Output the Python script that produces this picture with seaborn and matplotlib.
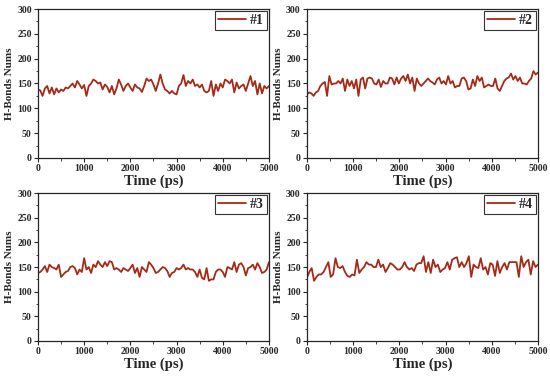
import numpy as np
import pandas as pd
import matplotlib
matplotlib.use("Agg")
import matplotlib.pyplot as plt
import seaborn as sns
from matplotlib.ticker import MultipleLocator

# H-bond counts (one sample per 50 ps)
hb_1 = [138, 136, 125, 140, 145, 130, 142, 128, 140, 132, 138, 135, 142, 140, 145, 150, 142, 155,
        148, 140, 147, 125, 145, 150, 158, 155, 150, 152, 138, 148, 143, 132, 145, 128, 140, 158,
        148, 135, 145, 150, 142, 135, 148, 142, 140, 133, 145, 160, 155, 158, 148, 135, 150, 168,
        150, 138, 135, 130, 135, 130, 128, 145, 150, 167, 145, 155, 150, 158, 145, 148, 142, 148,
        135, 132, 135, 155, 125, 148, 135, 150, 142, 158, 155, 150, 158, 132, 152, 140, 145, 148,
        135, 150, 165, 145, 155, 128, 150, 130, 145, 140, 145]
hb_2 = [128, 132, 130, 125, 132, 135, 145, 150, 153, 125, 165, 148, 150, 150, 155, 150, 160, 135,
        158, 145, 155, 140, 158, 125, 158, 162, 140, 160, 162, 160, 150, 148, 158, 143, 155, 150,
        150, 162, 160, 148, 162, 150, 160, 165, 155, 168, 150, 162, 135, 160, 150, 145, 150, 155,
        160, 155, 152, 148, 158, 162, 150, 155, 148, 165, 150, 155, 142, 145, 145, 160, 162, 155,
        138, 140, 158, 145, 165, 155, 162, 142, 145, 148, 145, 145, 160, 140, 135, 145, 155, 160,
        162, 170, 158, 165, 155, 162, 150, 150, 148, 155, 160, 175, 168, 172]
hb_3 = [138, 140, 145, 152, 140, 155, 150, 148, 145, 155, 130, 135, 140, 142, 150, 152, 148, 135,
        145, 140, 168, 145, 150, 138, 155, 150, 162, 155, 150, 160, 152, 162, 160, 145, 148, 145,
        140, 148, 145, 142, 148, 155, 138, 148, 130, 150, 145, 140, 160, 155, 148, 138, 140, 145,
        150, 148, 142, 130, 138, 140, 148, 145, 148, 155, 145, 148, 145, 145, 140, 130, 145, 128,
        125, 148, 122, 125, 125, 140, 145, 145, 140, 130, 150, 148, 145, 160, 140, 155, 158, 150,
        133, 148, 150, 155, 145, 158, 150, 138, 140, 145, 160]
hb_4 = [128, 140, 148, 122, 130, 135, 135, 140, 150, 160, 130, 135, 168, 150, 148, 152, 140, 132,
        130, 135, 133, 165, 138, 145, 150, 160, 155, 155, 150, 150, 165, 150, 155, 140, 148, 158,
        155, 150, 145, 145, 150, 160, 150, 145, 148, 142, 155, 158, 158, 172, 140, 160, 138, 165,
        150, 155, 140, 145, 148, 160, 145, 165, 168, 170, 150, 160, 150, 158, 172, 130, 155, 150,
        148, 168, 145, 150, 135, 158, 155, 132, 162, 138, 150, 158, 145, 160, 160, 160, 160, 130,
        172, 150, 160, 165, 135, 162, 150, 155]
series = [hb_1, hb_2, hb_3, hb_4]
labels = ["#1", "#2", "#3", "#4"]

sns.set_style("ticks")
plt.rcParams["font.family"] = ["Liberation Serif", "DejaVu Serif"]
plt.rcParams["font.weight"] = "bold"
plt.rcParams["axes.labelweight"] = "bold"

fig = plt.figure(figsize=(5.5, 3.83), dpi=100)
# axes positions [left, bottom, width, height]
pos = [[0.069, 0.5875, 0.420, 0.389],
       [0.558, 0.5875, 0.420, 0.389],
       [0.069, 0.1097, 0.420, 0.386],
       [0.558, 0.1097, 0.420, 0.386]]

for vals, lab, p in zip(series, labels, pos):
    ax = fig.add_axes(p)
    df = pd.DataFrame({"t": np.linspace(0, 5000, len(vals)), "hb": vals})
    sns.lineplot(data=df, x="t", y="hb", ax=ax, color="#a52a17", linewidth=1.3, label=lab)
    ax.set_xlim(0, 5000)
    ax.set_ylim(0, 300)
    ax.xaxis.set_major_locator(MultipleLocator(1000))
    ax.xaxis.set_minor_locator(MultipleLocator(500))
    ax.yaxis.set_major_locator(MultipleLocator(50))
    ax.yaxis.set_minor_locator(MultipleLocator(25))
    ax.tick_params(which="major", length=3, width=0.8, labelsize=7, pad=1.5)
    ax.tick_params(which="minor", length=1.8, width=0.6)
    for t in ax.get_xticklabels() + ax.get_yticklabels():
        t.set_fontweight("bold")
    for s in ax.spines.values():
        s.set_linewidth(0.9)
    ax.set_xlabel("Time (ps)", fontsize=10.5, fontweight="bold", labelpad=1)
    ax.set_ylabel("H-Bonds Nums", fontsize=8, fontweight="bold", labelpad=2)
    leg = ax.legend(loc="upper right", frameon=True, fancybox=False,
                    handlelength=2.0, handletextpad=0.3, borderpad=0.2,
                    borderaxespad=0.15, prop={"weight": "bold", "size": 10})
    leg.get_frame().set_edgecolor("black")
    leg.get_frame().set_linewidth(0.8)

fig.savefig("out.png", dpi=100)
